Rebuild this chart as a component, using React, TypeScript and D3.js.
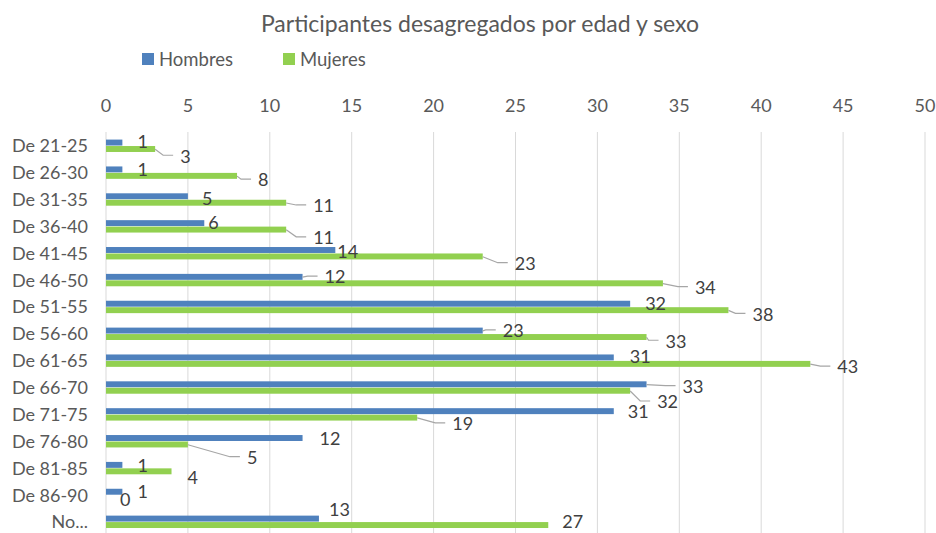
import * as d3 from 'd3';

// age groups, top to bottom
const categories = ['De 21-25', 'De 26-30', 'De 31-35', 'De 36-40', 'De 41-45', 'De 46-50', 'De 51-55',
  'De 56-60', 'De 61-65', 'De 66-70', 'De 71-75', 'De 76-80', 'De 81-85', 'De 86-90', 'No...'];
const hombres = [1, 1, 5, 6, 14, 12, 32, 23, 31, 33, 31, 12, 1, 1, 13];
const mujeres = [3, 8, 11, 11, 23, 34, 38, 33, 43, 32, 19, 5, 4, 0, 27];
const seriesNames = ['Hombres', 'Mujeres'];
const ticks = [0, 5, 10, 15, 20, 25, 30, 35, 40, 45, 50];

// where excel dropped the data labels (px from bar end / bar middle) + leader flag
const hombresLabelDx = [15, 15, 14, 4, 2, 22, 15, 20, 16, 36, 14, 17, 15, 15, 10];
const hombresLabelDy = [-1, 0, 2, -1, 1, 0, 0, 0, -1, 2, 0, 0, 1, 0, -9];
const hombresLeader = [0, 0, 0, 0, 0, 1, 0, 1, 0, 1, 0, 0, 0, 0, 0];
const mujeresLabelDx = [25, 21, 27, 27, 32, 32, 24, 19, 27, 27, 35, 59, 16, 14, 14];
const mujeresLabelDy = [7, 4, 3, 8, 7, 4, 4, 4, 3, 11, 6, 13, 6, 1, -3.5];
const mujeresLeader = [1, 1, 1, 1, 1, 1, 1, 1, 1, 1, 1, 1, 0, 0, 0];

const colors = ['#4F81BD', '#92D050'];
const FONT = 'Lato, "Noto Sans", sans-serif';

export default function App() {
  const width = 936, height = 533;
  const x = d3.scaleLinear().domain([0, 50]).range([106, 925]);
  const y = d3.scaleBand<string>().domain(categories).range([132.6, 535.5])
    .paddingInner(0.52).paddingOuter(0.26);
  const sub = d3.scaleBand<string>().domain(seriesNames).range([0, y.bandwidth()]);

  const series = [
    { name: 'Hombres', values: hombres, dx: hombresLabelDx, dy: hombresLabelDy, leader: hombresLeader },
    { name: 'Mujeres', values: mujeres, dx: mujeresLabelDx, dy: mujeresLabelDy, leader: mujeresLeader },
  ];

  return (
    <svg width={width} height={height} style={{ position: 'absolute', left: 0, top: 0, background: '#fff' }}
      fontFamily={FONT}>
      <text x={480} y={32} textAnchor="middle" fontSize={23} fill="#595959">
        Participantes desagregados por edad y sexo
      </text>

      {/* legend */}
      {seriesNames.map((n, i) => (
        <g key={n} transform={`translate(${142 + i * 141},53)`}>
          <rect width={12} height={12} fill={colors[i]} />
          <text x={17} y={12.5} fontSize={18.5} fill="#595959">{n}</text>
        </g>
      ))}

      {/* grid + top axis */}
      {ticks.map(t => (
        <g key={t}>
          <line x1={x(t)} x2={x(t)} y1={132} y2={height} stroke="#D9D9D9" strokeWidth={1} />
          <text x={x(t)} y={112} textAnchor="middle" fontSize={18} fill="#595959">{t}</text>
        </g>
      ))}

      {/* category labels */}
      {categories.map(c => (
        <text key={c} x={88} y={y(c)! + y.bandwidth() / 2} dy="0.35em" textAnchor="end"
          fontSize={18} fill="#595959">{c}</text>
      ))}

      {/* bars */}
      {series.map((s, si) => (
        <g key={s.name}>
          {s.values.map((v, i) => (
            <rect key={i} x={x(0)} y={y(categories[i])! + sub(s.name)!} width={x(v) - x(0)}
              height={sub.bandwidth() - 0.5} fill={colors[si]} />
          ))}
        </g>
      ))}

      {/* data labels with leader lines */}
      {series.map(s => (
        <g key={s.name + '-lbl'}>
          {s.values.map((v, i) => {
            const x0 = x(v);
            const y0 = y(categories[i])! + sub(s.name)! + sub.bandwidth() / 2;
            const tx = x0 + s.dx[i];
            const ty = y0 + s.dy[i];
            const xe = tx - 7, ye = ty - 1;
            const mx = Math.max(x0, xe - 10);
            return (
              <g key={i}>
                {s.leader[i] ? (
                  <path d={`M${x0},${y0}L${mx},${ye}L${xe},${ye}`} fill="none" stroke="#A6A6A6" strokeWidth={1.2} />
                ) : null}
                <text x={tx} y={ty} dy="0.35em" fontSize={18} fill="#404040">{v}</text>
              </g>
            );
          })}
        </g>
      ))}
    </svg>
  );
}
